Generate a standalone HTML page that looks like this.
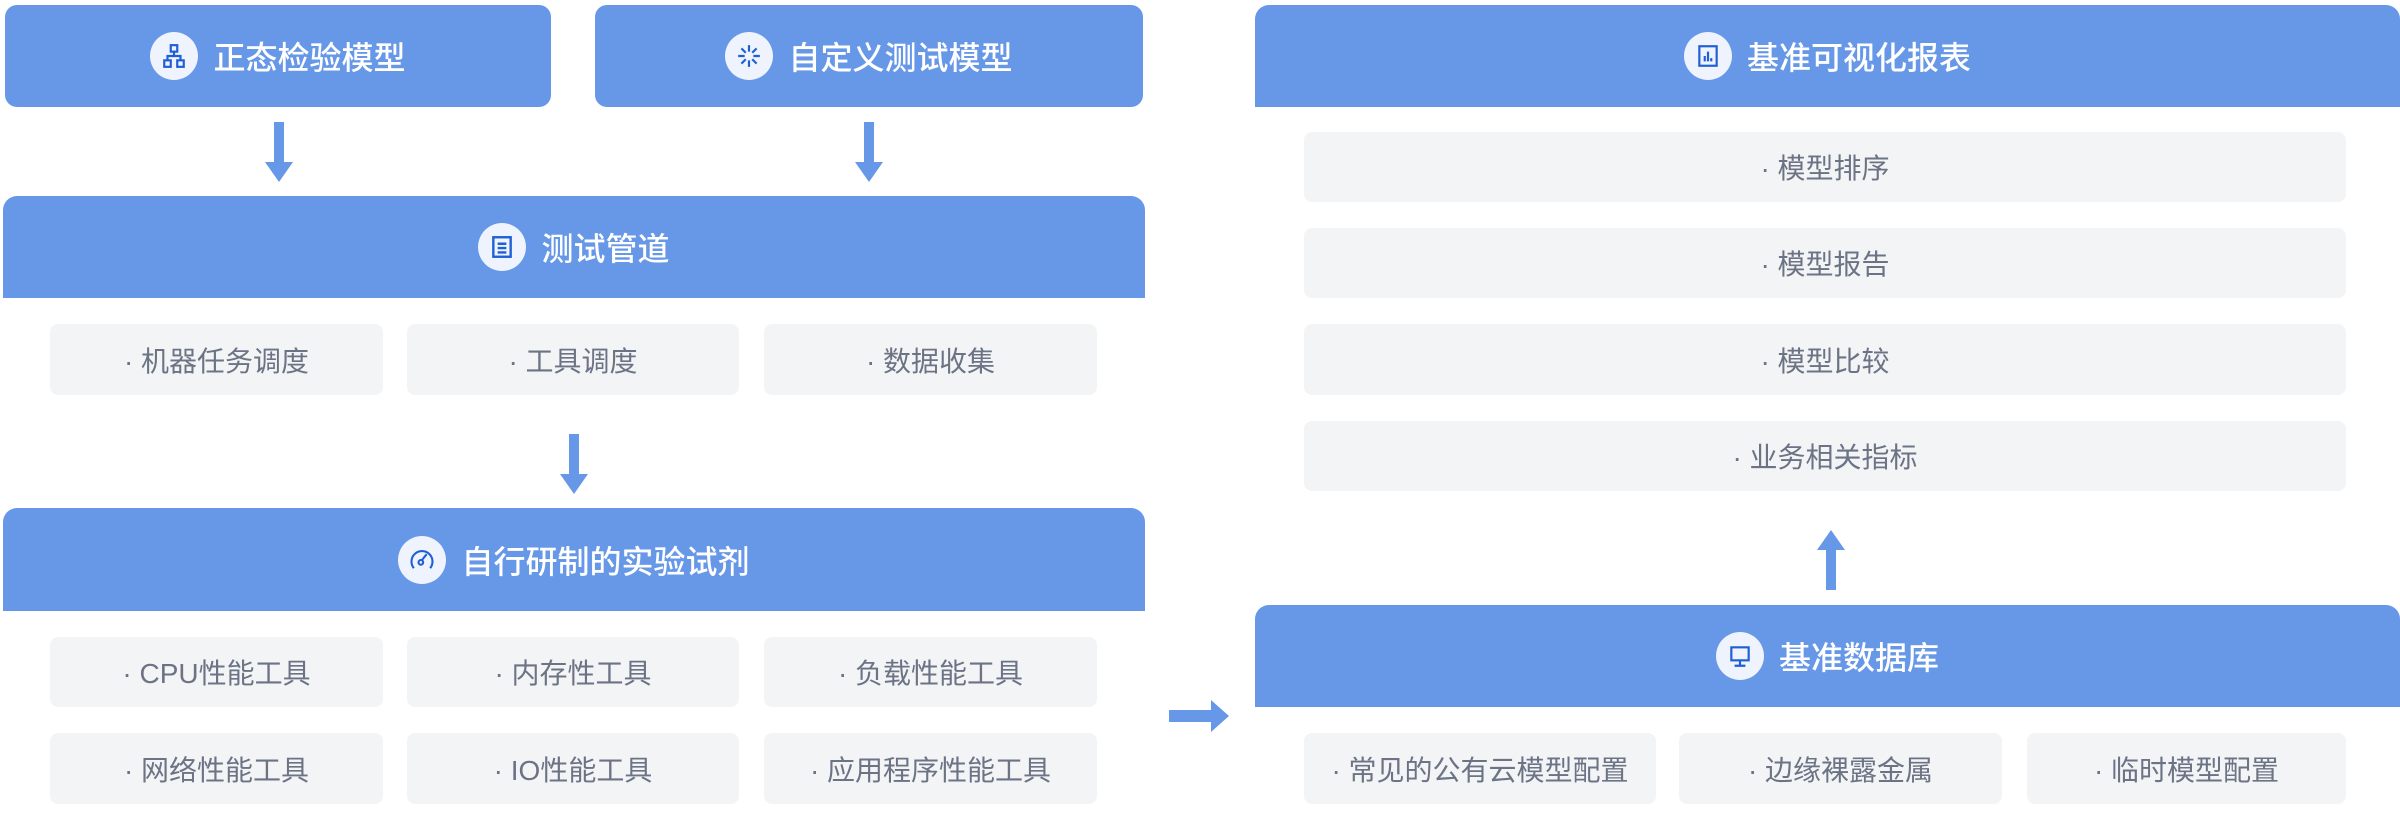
<!DOCTYPE html>
<html><head><meta charset="utf-8"><style>
*{margin:0;padding:0;box-sizing:border-box}
body{width:2400px;height:832px;background:#fff;position:relative;overflow:hidden;font-family:"Liberation Sans","Noto Sans CJK SC",sans-serif}
.h{position:absolute;background:#6798e8;color:#fff;font-size:32px;display:flex;align-items:center;justify-content:center;gap:15px;font-weight:500}
.r{border-radius:12px}
.t{border-radius:14px 14px 0 0}
.ic{width:48px;height:48px;border-radius:50%;background:#eef3fd;display:flex;align-items:center;justify-content:center}
.it{position:absolute;background:#f3f4f6;border-radius:8px;color:#6b7385;font-size:28px;display:flex;align-items:center;justify-content:center}
svg.a{position:absolute}
</style></head><body>
<div class="h r" style="left:5px;top:5px;width:546px;height:102px"><div class="ic"><svg width="26" height="26" viewBox="0 0 24 24" fill="none" stroke="#1f5fd6" stroke-width="2"><rect x="9" y="2" width="6" height="6"/><rect x="3" y="16" width="6" height="6"/><rect x="15" y="16" width="6" height="6"/><path d="M12 8v4M6 16v-4h12v4"/></svg></div>正态检验模型</div>
<div class="h r" style="left:595px;top:5px;width:548px;height:102px"><div class="ic"><svg width="26" height="26" viewBox="0 0 24 24" fill="none" stroke="#1f5fd6" stroke-width="2"><path d="M12 2v6M12 16v6M2 12h6M16 12h6M5 5l4 4M15 15l4 4M19 5l-4 4M9 15l-4 4"/></svg></div>自定义测试模型</div>
<svg class="a" style="left:265px;top:122px" width="28" height="60"><rect x="9" y="0" width="10" height="40" fill="#6798e8"/><path d="M0 40h28L14 60z" fill="#6798e8"/></svg>
<svg class="a" style="left:855px;top:122px" width="28" height="60"><rect x="9" y="0" width="10" height="40" fill="#6798e8"/><path d="M0 40h28L14 60z" fill="#6798e8"/></svg>
<div class="h t" style="left:3px;top:196px;width:1142px;height:102px"><div class="ic"><svg width="26" height="26" viewBox="0 0 24 24" fill="none" stroke="#1f5fd6" stroke-width="2.2"><rect x="4" y="3" width="16" height="18"/><path d="M8 9h8M8 13h8M8 17h8"/></svg></div>测试管道</div>
<div class="it" style="left:50px;top:324px;width:333px;height:71px">· 机器任务调度</div>
<div class="it" style="left:407px;top:324px;width:332px;height:71px">· 工具调度</div>
<div class="it" style="left:764px;top:324px;width:333px;height:71px">· 数据收集</div>
<svg class="a" style="left:560px;top:434px" width="28" height="60"><rect x="9" y="0" width="10" height="40" fill="#6798e8"/><path d="M0 40h28L14 60z" fill="#6798e8"/></svg>
<div class="h t" style="left:3px;top:508px;width:1142px;height:103px"><div class="ic"><svg width="28" height="28" viewBox="0 0 24 24" fill="none" stroke="#1f5fd6" stroke-width="1.8"><path d="M5 19a9 9 0 1 1 14 0"/><circle cx="11" cy="14" r="2"/><path d="M12 12l4-5"/></svg></div>自行研制的实验试剂</div>
<div class="it" style="left:50px;top:637px;width:333px;height:70px">· CPU性能工具</div>
<div class="it" style="left:407px;top:637px;width:332px;height:70px">· 内存性工具</div>
<div class="it" style="left:764px;top:637px;width:333px;height:70px">· 负载性能工具</div>
<div class="it" style="left:50px;top:733px;width:333px;height:71px">· 网络性能工具</div>
<div class="it" style="left:407px;top:733px;width:332px;height:71px">· IO性能工具</div>
<div class="it" style="left:764px;top:733px;width:333px;height:71px">· 应用程序性能工具</div>
<svg class="a" style="left:1169px;top:700px" width="60" height="32"><rect x="0" y="10" width="44" height="12" fill="#6798e8"/><path d="M42 0v32L60 16z" fill="#6798e8"/></svg>
<div class="h t" style="left:1255px;top:5px;width:1145px;height:102px"><div class="ic"><svg width="26" height="26" viewBox="0 0 24 24" fill="none" stroke="#1f5fd6" stroke-width="2"><rect x="4" y="3" width="16" height="18"/><path d="M9 17v-5M12 17V8M15 17v-3"/></svg></div>基准可视化报表</div>
<div class="it" style="left:1304px;top:132px;width:1042px;height:70px">· 模型排序</div>
<div class="it" style="left:1304px;top:228px;width:1042px;height:70px">· 模型报告</div>
<div class="it" style="left:1304px;top:324px;width:1042px;height:71px">· 模型比较</div>
<div class="it" style="left:1304px;top:421px;width:1042px;height:70px">· 业务相关指标</div>
<svg class="a" style="left:1817px;top:530px" width="28" height="60"><path d="M0 20h28L14 0z" fill="#6798e8"/><rect x="9" y="18" width="10" height="42" fill="#6798e8"/></svg>
<div class="h t" style="left:1255px;top:605px;width:1145px;height:102px"><div class="ic"><svg width="26" height="26" viewBox="0 0 24 24" fill="none" stroke="#1f5fd6" stroke-width="2"><rect x="4" y="4" width="16" height="12"/><path d="M12 16v4M7 21h10"/></svg></div>基准数据库</div>
<div class="it" style="left:1304px;top:733px;width:352px;height:71px">· 常见的公有云模型配置</div>
<div class="it" style="left:1679px;top:733px;width:323px;height:71px">· 边缘裸露金属</div>
<div class="it" style="left:2027px;top:733px;width:319px;height:71px">· 临时模型配置</div>
</body></html>
